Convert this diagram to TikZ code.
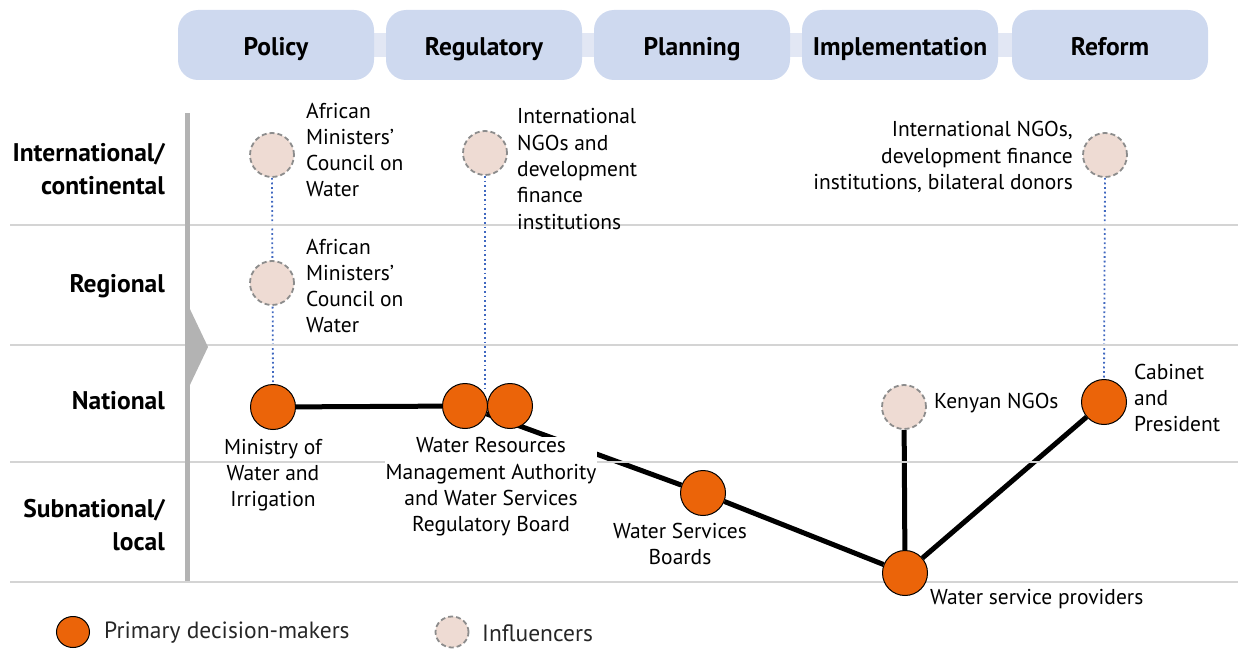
\documentclass[tikz,border=0pt]{standalone}
\usepackage{fontspec}
\setmainfont{PT Sans}
\usetikzlibrary{backgrounds,shapes.geometric}
\definecolor{hdr}{HTML}{CED9EF}
\definecolor{band}{HTML}{E2E7F4}
\definecolor{grid}{HTML}{D4D4D4}
\definecolor{axis}{HTML}{B3B3B3}
\definecolor{prim}{HTML}{EB6409}
\definecolor{infl}{HTML}{EEDBD3}
\definecolor{inflb}{HTML}{8C8C8C}
\definecolor{dots}{HTML}{4068C0}
\tikzset{
  hdrbox/.style={fill=hdr, rounded corners=20pt, minimum width=196pt, minimum height=70pt, text height=28pt, text depth=6pt, font=\fontsize{25.5}{30}\selectfont\bfseries},
  rowlab/.style={anchor=east, align=right, inner sep=0pt, font=\fontsize{25.5}{33}\selectfont\bfseries},
  primary/.style={circle, fill=prim, draw=black, line width=1pt, minimum size=45pt, inner sep=0pt},
  influencer/.style={circle, fill=infl, draw=inflb, dashed, dash pattern=on 5pt off 3pt, line width=1.8pt, minimum size=44pt, inner sep=0pt},
  lab/.style={inner sep=0pt, font=\fontsize{21.5}{26.3}\selectfont},
  leglab/.style={inner sep=0pt, font=\fontsize{23.5}{28}\selectfont, text=black!85},
  strong/.style={line width=5pt, black},
  weak/.style={dots, line width=1.8pt, dash pattern=on 1.8pt off 2.8pt},
}
\begin{document}
\begin{tikzpicture}[x=1pt, y=-1pt]
\useasboundingbox (0,0) rectangle (1238,666);
% header band and boxes
\fill[band] (178,33) rectangle (1208,57);
\node[hdrbox] (hpol) at (276,45) {Policy};
\node[hdrbox] (hreg) at (484,45) {Regulatory};
\node[hdrbox] (hpla) at (692,45) {Planning};
\node[hdrbox] (himp) at (900,45) {Implementation};
\node[hdrbox] (href) at (1110,45) {Reform};
% grid lines
\foreach \yy in {225,345,462,582} \draw[grid, line width=1.2pt] (10,\yy) -- (1238,\yy);
% axis
\fill[axis] (185,113) rectangle (190,581);
\fill[axis] (188,305) -- (208,347) -- (188,389) -- cycle;
% row labels
\node[rowlab] (rint) at (165,169) {International/\\continental};
\node[rowlab] (rreg) at (165,286) {Regional};
\node[rowlab] (rnat) at (165,401) {National};
\node[rowlab] (rsub) at (165,525) {Subnational/\\local};
% nodes
\node[influencer] (amc1) at (272,155) {};
\node[influencer] (amc2) at (272,283) {};
\node[influencer] (ingo1) at (485,153) {};
\node[influencer] (ingo2) at (1105,155) {};
\node[influencer] (kngo) at (904,407) {};
\node[primary] (min) at (273,407) {};
\node[primary] (wr1) at (465,406) {};
\node[primary] (wr2) at (510,406) {};
\node[primary] (wsb) at (703,493) {};
\node[primary] (wsp) at (905,573) {};
\node[primary] (cab) at (1104,402) {};
% labels
\node[lab, anchor=west, align=left] (lamc1) at (306,150) {African\\Ministers’\\Council on\\Water};
\node[lab, anchor=west, align=left] (lamc2) at (306,286) {African\\Ministers’\\Council on\\Water};
\node[lab, anchor=west, align=left] (lingo1) at (517,169) {International\\NGOs and\\development\\finance\\institutions};
\node[lab, anchor=east, align=right] (lingo2) at (1073,157) {International NGOs,\\development finance\\institutions, bilateral donors};
\node[lab, anchor=west] (lkngo) at (934,403) {Kenyan NGOs};
\node[lab, anchor=west, align=left] (lcab) at (1134,398) {Cabinet\\and\\President};
\node[lab, align=center] (lmin) at (273,475) {Ministry of\\Water and\\Irrigation};
\node[lab, align=center, fill=white, inner sep=1pt] (lwr) at (491,487) {Water Resources\\Management Authority\\and Water Services\\Regulatory Board};
\node[lab, align=center] (lwsb) at (680,544) {Water Services\\Boards};
\node[lab, anchor=west] (lwsp) at (930,599) {Water service providers};
% connectors
\begin{pgfonlayer}{background}
\draw[weak] (amc1.south) -- (min.north);
\draw[weak] (ingo1.south) -- (485,390);
\draw[weak] (ingo2.south) -- (cab.north);
\draw[strong] (min) -- (wr1);
\draw[strong] (wr1) -- (wsb);
\draw[strong] (wsb) -- (wsp);
\draw[strong] (wsp) -- (kngo);
\draw[strong] (wsp) -- (cab);
\end{pgfonlayer}
% legend
\node[primary, ellipse, minimum width=33pt, minimum height=31pt] (legp) at (73,632) {};
\node[leglab, anchor=west] (legpl) at (104,633) {Primary decision-makers};
\node[influencer, ellipse, minimum width=33pt, minimum height=31pt] (legi) at (452,632) {};
\node[leglab, anchor=west] (legil) at (482,633) {Influencers};
\end{tikzpicture}
\end{document}
